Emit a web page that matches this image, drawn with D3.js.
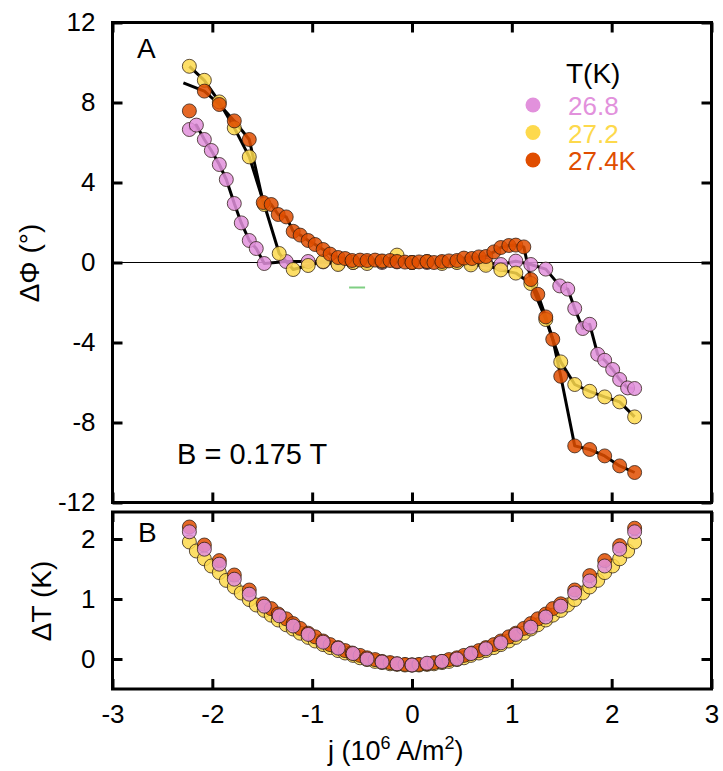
<!DOCTYPE html>
<html>
<head>
<meta charset="utf-8">
<script src="https://cdn.jsdelivr.net/npm/d3@7"></script>
<style>
  body { margin: 0; background: #fff; }
  svg text { font-family: "Liberation Sans", Arial, sans-serif; }
</style>
</head>
<body>
<div id="chart"></div>
<script>
var svg_width = 723;
var svg_height = 771;

// Panel A: phase shift vs current density
var j_pink_A = [-2.23,-2.16,-2.08,-2.01,-1.93,-1.86,-1.78,-1.71,-1.63,-1.56,-1.48,-1.26,-1.04,-0.89,-0.74,-0.59,-0.45,-0.30,-0.15,0,0.15,0.30,0.45,0.59,0.74,0.89,1.04,1.19,1.34,1.48,1.56,1.63,1.71,1.78,1.86,1.93,2.01,2.08,2.16,2.23];
var phi_pink_A = [6.65,6.87,6.15,5.6,4.9,4.15,2.95,1.98,1.1,0.7,-0.05,0.05,0.05,0.03,-0.05,0,0.02,0,0.03,0,0,0,0.02,-0.03,-0.05,-0.1,0.07,-0.1,-0.33,-1.17,-1.33,-2.3,-3.3,-3.09,-4.59,-4.89,-5.35,-5.85,-6.27,-6.3];

var j_yellow_A = [-2.23,-2.08,-1.93,-1.78,-1.63,-1.48,-1.33,-1.19,-1.04,-0.89,-0.74,-0.59,-0.45,-0.30,-0.15,0,0.15,0.30,0.45,0.59,0.74,0.89,1.04,1.19,1.34,1.49,1.63,1.78,1.93,2.08,2.23];
var phi_yellow_A = [9.81,9.11,8.03,6.73,5.28,2.9,0.45,-0.35,-0.15,0.05,-0.1,0.0,-0.05,0.05,0.37,0.0,0.05,-0.05,0.0,-0.12,-0.14,-0.37,-0.53,-1.05,-2.85,-4.97,-6.1,-6.44,-6.72,-6.97,-7.72];

var j_orange_A = [-2.23,-2.08,-1.93,-1.78,-1.63,-1.49,-1.41,-1.34,-1.26,-1.19,-1.12,-1.04,-0.97,-0.89,-0.82,-0.74,-0.67,-0.60,-0.52,-0.45,-0.37,-0.30,-0.22,-0.15,-0.07,0,0.07,0.15,0.22,0.30,0.37,0.45,0.52,0.60,0.67,0.74,0.82,0.89,0.97,1.04,1.12,1.19,1.26,1.34,1.41,1.49,1.63,1.78,1.93,2.08,2.23];
var phi_orange_A = [7.58,8.57,7.9,7.08,6.15,3.0,2.9,2.4,2.28,1.56,1.37,1.1,0.9,0.65,0.42,0.25,0.2,0.1,0.12,0.1,0.12,0.08,0.1,0.05,0.02,0.0,0.03,0.05,0.0,0.05,0.08,0.1,0.22,0.2,0.28,0.3,0.53,0.75,0.85,0.87,0.78,-0.85,-1.59,-2.72,-3.84,-5.69,-9.17,-9.35,-9.67,-10.17,-10.5];
// the fit for 27.4 K starts off the first point
var orange_fit_start = [-2.29, 8.98];

// Panel B: temperature rise vs current density
var j_pink_B = [-2.23,-2.08,-1.93,-1.78,-1.63,-1.48,-1.33,-1.19,-1.04,-0.89,-0.74,-0.59,-0.45,-0.30,-0.15,0,0.15,0.30,0.45,0.59,0.74,0.89,1.04,1.19,1.34,1.49,1.63,1.78,1.93,2.08,2.23];
var dT_pink_B = [2.12,1.83,1.58,1.33,1.08,0.88,0.72,0.55,0.41,0.28,0.18,0.09,0.0,-0.05,-0.08,-0.1,-0.07,-0.04,0.0,0.09,0.17,0.27,0.41,0.53,0.70,0.88,1.10,1.30,1.55,1.83,2.12];

var j_orange_B = j_orange_A;
var dT_orange_B = [2.2,1.9,1.64,1.4,1.15,0.92,0.84,0.75,0.67,0.59,0.51,0.43,0.37,0.30,0.24,0.19,0.14,0.10,0.06,0.02,-0.01,-0.04,-0.06,-0.08,-0.09,-0.1,-0.09,-0.08,-0.06,-0.04,-0.01,0.02,0.06,0.10,0.14,0.19,0.24,0.30,0.37,0.43,0.51,0.59,0.67,0.75,0.84,0.92,1.15,1.39,1.64,1.89,2.18];

var j_yellow_B = [-2.23,-2.16,-2.08,-2.01,-1.93,-1.86,-1.78,-1.71,-1.63,-1.56,-1.48,-1.41,-1.34,-1.26,-1.19,-1.12,-1.04,-0.97,-0.89,-0.82,-0.74,-0.67,-0.59,-0.52,-0.45,-0.37,-0.30,-0.22,-0.15,-0.07,0,0.07,0.15,0.22,0.30,0.37,0.45,0.52,0.59,0.67,0.74,0.82,0.89,0.97,1.04,1.12,1.19,1.26,1.34,1.41,1.49,1.56,1.63,1.71,1.78,1.86,1.93,2.01,2.08,2.16,2.23];
var dT_yellow_B = [1.95,1.8,1.67,1.55,1.44,1.31,1.2,1.1,0.99,0.9,0.81,0.73,0.65,0.57,0.5,0.43,0.36,0.3,0.24,0.19,0.14,0.1,0.06,0.02,-0.01,-0.04,-0.06,-0.08,-0.09,-0.1,-0.1,-0.1,-0.09,-0.08,-0.06,-0.04,-0.01,0.02,0.06,0.1,0.14,0.19,0.24,0.3,0.36,0.43,0.5,0.57,0.65,0.73,0.81,0.9,0.99,1.1,1.2,1.31,1.44,1.55,1.67,1.8,1.95];

// Legend
var legend_title = "T(K)";
var legend_labels = ["26.8", "27.2", "27.4K"];
var series_colors = ["#e291dc", "#fdd94c", "#e04d00"];

// stray mark in the original figure
var stray_dash = [[-0.63, -1.25], [-0.47, -1.25]];

var x_ticks = [-3, -2, -1, 0, 1, 2, 3];
var yA_ticks = [-12, -8, -4, 0, 4, 8, 12];
var yB_ticks = [0, 1, 2];

function zip(xs, ys) {
  return xs.map(function(x, i) { return [x, ys[i]]; });
}

var svg = d3.select("#chart").append("svg")
  .attr("width", svg_width)
  .attr("height", svg_height);

var x_scale = d3.scaleLinear().domain([-3, 3]).range([112.5, 711.5]);
var yA_scale = d3.scaleLinear().domain([-12, 12]).range([502.5, 22.5]);
var yB_scale = d3.scaleLinear().domain([-0.5, 2.45]).range([689, 512]);

var fmt = function(d) { return String(d); };

// ---- axes with inward ticks ----
function drawAxes(y_scale, y_ticks, top_px, bottom_px, show_x_labels) {
  var left = svg.append("g").attr("transform", "translate(112.5,0)")
    .call(d3.axisLeft(y_scale).tickValues(y_ticks).tickFormat(fmt).tickSizeInner(-10).tickSizeOuter(0).tickPadding(17));
  var right = svg.append("g").attr("transform", "translate(711.5,0)")
    .call(d3.axisRight(y_scale).tickValues(y_ticks).tickFormat("").tickSizeInner(-10).tickSizeOuter(0));
  var top = svg.append("g").attr("transform", `translate(0,${top_px})`)
    .call(d3.axisTop(x_scale).tickValues(x_ticks).tickFormat("").tickSizeInner(-10).tickSizeOuter(0));
  var bottom = svg.append("g").attr("transform", `translate(0,${bottom_px})`)
    .call(d3.axisBottom(x_scale).tickValues(x_ticks).tickFormat(show_x_labels ? fmt : "").tickSizeInner(-10).tickSizeOuter(0).tickPadding(16));

  [left, right, top, bottom].forEach(function(g) {
    g.select(".domain").remove();
    g.selectAll(".tick line").attr("stroke", "#000").attr("stroke-width", 3);
    g.selectAll(".tick text").attr("font-size", "26px").attr("fill", "#000")
      .style("font-family", "'Liberation Sans', Arial, sans-serif");
  });
}

drawAxes(yA_scale, yA_ticks, 22.5, 502.5, false);
drawAxes(yB_scale, yB_ticks, 512, 689, true);

// zero line in panel A
svg.append("line")
  .attr("x1", x_scale(-3)).attr("x2", x_scale(3))
  .attr("y1", yA_scale(0)).attr("y2", yA_scale(0))
  .attr("stroke", "#000").attr("stroke-width", 1);

svg.append("line")
  .attr("x1", x_scale(stray_dash[0][0])).attr("x2", x_scale(stray_dash[1][0]))
  .attr("y1", yA_scale(stray_dash[0][1])).attr("y2", yA_scale(stray_dash[1][1]))
  .attr("stroke", "#7fcf83").attr("stroke-width", 2);

// ---- panel A fit lines ----
var lineA = d3.line()
  .x(d => x_scale(d[0]))
  .y(d => yA_scale(d[1]));

var pink_A = zip(j_pink_A, phi_pink_A);
var yellow_A = zip(j_yellow_A, phi_yellow_A);
var orange_A = zip(j_orange_A, phi_orange_A);
var orange_fit = [orange_fit_start].concat(orange_A.slice(1));

[pink_A, yellow_A, orange_fit].forEach(function(pts) {
  svg.append("path")
    .datum(pts)
    .attr("d", lineA)
    .attr("fill", "none")
    .attr("stroke", "#000")
    .attr("stroke-width", 3)
    .attr("stroke-linejoin", "round");
});

// ---- markers ----
function drawDots(pts, y_scale, color) {
  svg.append("g").selectAll("circle")
    .data(pts)
    .enter()
    .append("circle")
    .attr("cx", d => x_scale(d[0]))
    .attr("cy", d => y_scale(d[1]))
    .attr("r", 7)
    .attr("fill", color)
    .attr("fill-opacity", 0.85)
    .attr("stroke", "#2a1a10")
    .attr("stroke-opacity", 0.75)
    .attr("stroke-width", 1);
}

drawDots(pink_A, yA_scale, series_colors[0]);
drawDots(yellow_A, yA_scale, series_colors[1]);
drawDots(orange_A, yA_scale, series_colors[2]);

drawDots(zip(j_yellow_B, dT_yellow_B), yB_scale, series_colors[1]);
drawDots(zip(j_orange_B, dT_orange_B), yB_scale, series_colors[2]);
drawDots(zip(j_pink_B, dT_pink_B), yB_scale, series_colors[0]);

// ---- frames ----
svg.append("rect")
  .attr("x", x_scale(-3)).attr("y", yA_scale(12))
  .attr("width", x_scale(3) - x_scale(-3)).attr("height", yA_scale(-12) - yA_scale(12))
  .attr("fill", "none").attr("stroke", "#000").attr("stroke-width", 3);

svg.append("rect")
  .attr("x", x_scale(-3)).attr("y", 512)
  .attr("width", x_scale(3) - x_scale(-3)).attr("height", 689 - 512)
  .attr("fill", "none").attr("stroke", "#000").attr("stroke-width", 3);

// ---- labels ----
svg.append("text").attr("x", 137).attr("y", 58).attr("font-size", "28px").text("A");
svg.append("text").attr("x", 138).attr("y", 542).attr("font-size", "28px").text("B");
svg.append("text").attr("x", 177).attr("y", 464).attr("font-size", "29px").text("B = 0.175 T");

svg.append("text")
  .attr("transform", "translate(39,263) rotate(-90)")
  .attr("text-anchor", "middle")
  .attr("font-size", "28px")
  .text("\u0394\u03A6 (\u00B0)");

svg.append("text")
  .attr("transform", "translate(51,601) rotate(-90)")
  .attr("text-anchor", "middle")
  .attr("font-size", "28px")
  .text("\u0394T (K)");

var xlab = svg.append("text")
  .attr("x", 328).attr("y", 760)
  .attr("font-size", "27px");
xlab.append("tspan").text("j (10");
xlab.append("tspan").attr("dy", -11).attr("font-size", "18px").text("6");
xlab.append("tspan").attr("dy", 11).text(" A/m");
xlab.append("tspan").attr("dy", -11).attr("font-size", "18px").text("2");
xlab.append("tspan").attr("dy", 11).text(")");

// ---- legend ----
svg.append("text").attr("x", 566).attr("y", 83).attr("font-size", "28px").text(legend_title);
var legend = svg.append("g").selectAll("g")
  .data(legend_labels)
  .enter()
  .append("g")
  .attr("transform", (d, i) => `translate(0,${i * 27.5})`);
legend.append("circle")
  .attr("cx", 533).attr("cy", 105).attr("r", 7.5)
  .attr("fill", (d, i) => series_colors[i]);
legend.append("text")
  .attr("x", 568).attr("y", 115)
  .attr("font-size", "26px")
  .attr("fill", (d, i) => series_colors[i])
  .text(d => d);
</script>
</body>
</html>
